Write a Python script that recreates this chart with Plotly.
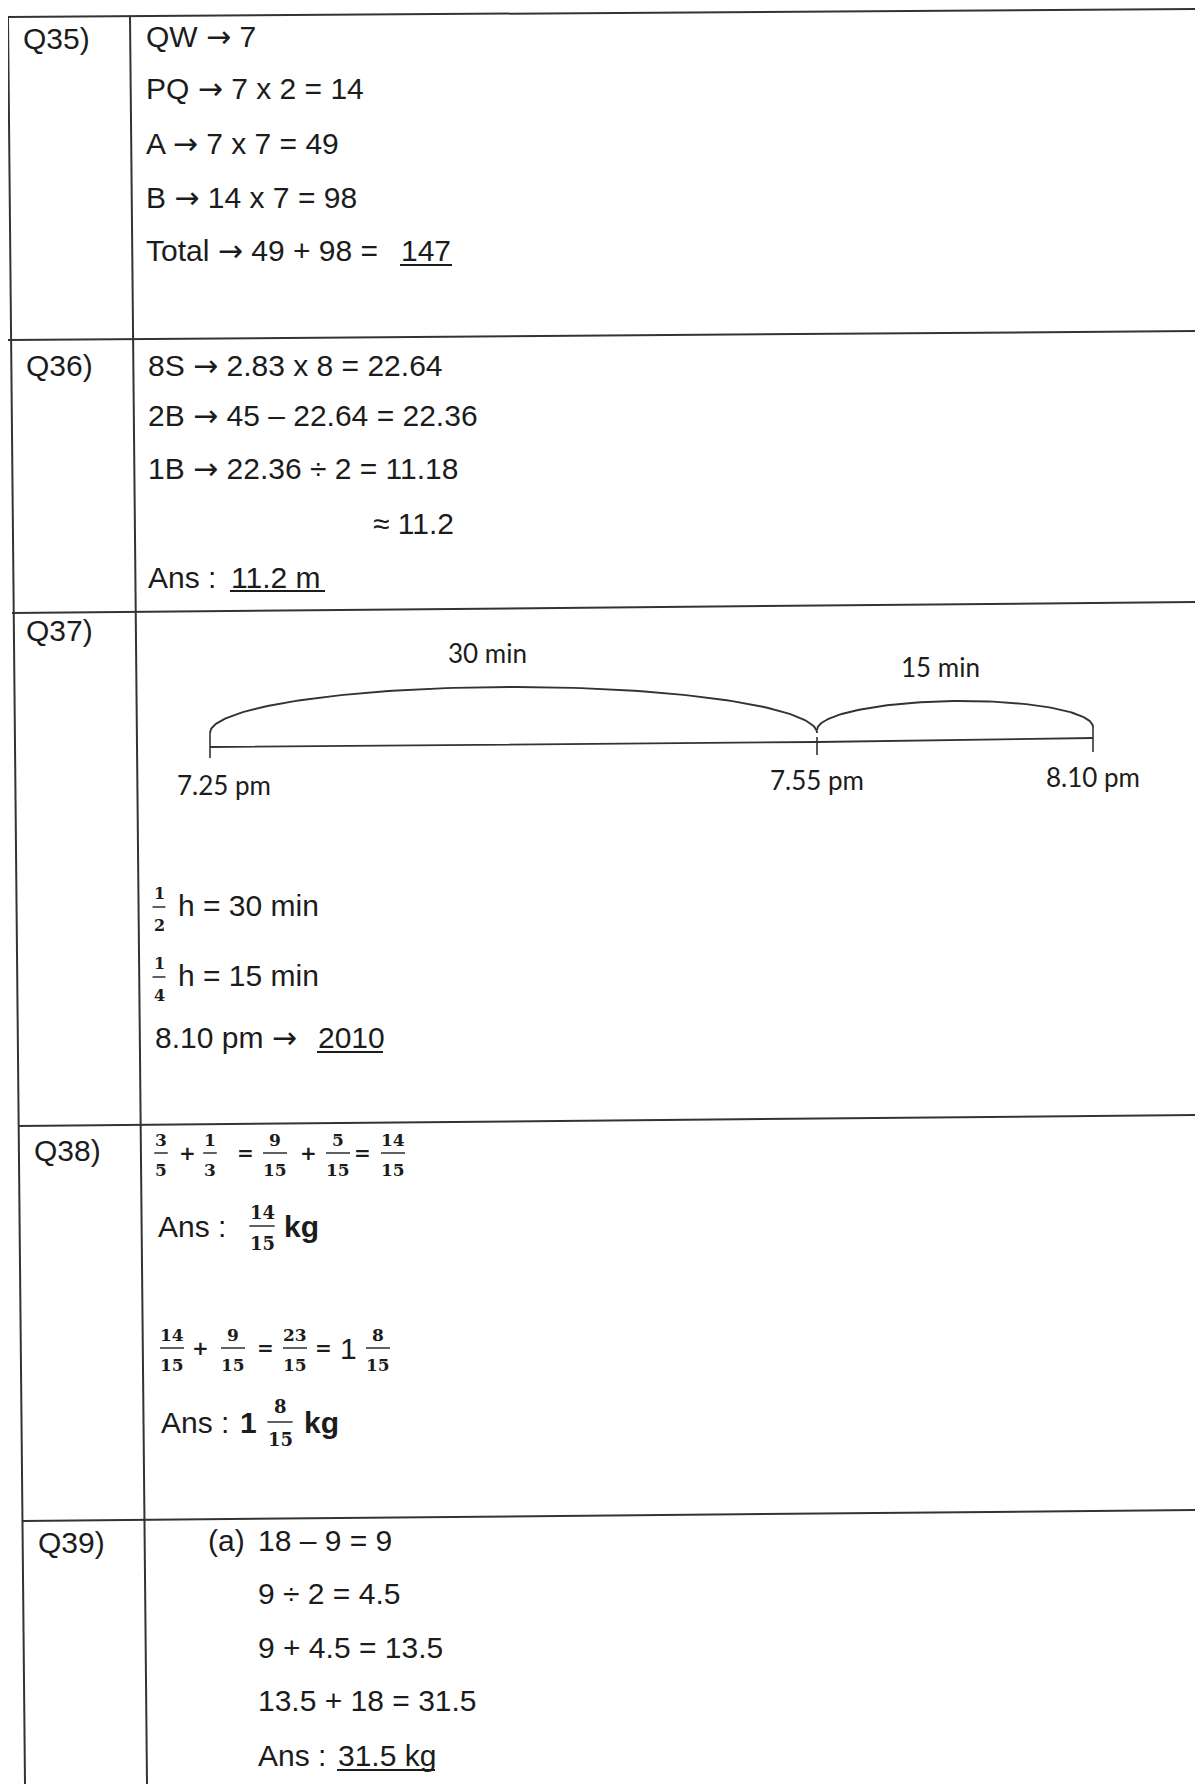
import numpy as np
import plotly.graph_objects as go

# ---------------- content (text values read from the page) ----------------
ARW = '<span style="font-family:DejaVu Sans">\u2192</span>'

q_labels = ["Q35)", "Q36)", "Q37)", "Q38)", "Q39)"]

q35_lines = ["QW " + ARW + " 7", "PQ " + ARW + " 7 x 2 = 14", "A " + ARW + " 7 x 7 = 49",
             "B " + ARW + " 14 x 7 = 98", "Total " + ARW + " 49 + 98 = "]
q35_answer = "147"

q36_lines = ["8S " + ARW + " 2.83 x 8 = 22.64", "2B " + ARW + " 45 \u2013 22.64 = 22.36",
             "1B " + ARW + " 22.36 \u00f7 2 = 11.18", "\u2248 11.2", "Ans : "]
q36_answer = "11.2 m"

q37_times = ["7.25 pm", "7.55 pm", "8.10 pm"]
q37_intervals = ["30 min", "15 min"]
q37_fracs = [("1", "2"), ("1", "4")]
q37_lines = ["h = 30 min", "h = 15 min", "8.10 pm " + ARW + " "]
q37_answer = "2010"

q38_eq1 = [("3", "5"), "+", ("1", "3"), "=", ("9", "15"), "+", ("5", "15"), "=", ("14", "15")]
q38_ans1 = ["Ans :", ("14", "15"), "kg"]
q38_eq2 = [("14", "15"), "+", ("9", "15"), "=", ("23", "15"), "=", "1", ("8", "15")]
q38_ans2 = ["Ans :", "1", ("8", "15"), "kg"]

q39_prefix = "(a)"
q39_lines = ["18 \u2013 9 = 9", "9 \u00f7 2 = 4.5", "9 + 4.5 = 13.5", "13.5 + 18 = 31.5", "Ans : "]
q39_answer = "31.5 kg"

# ---------------- layout constants (positions / styles) ----------------
PAGE_W, PAGE_H = 1203, 1784
OFF = 8  # browser body margin
INK = "#1c1c1c"
LINE = "#333333"
SANS = "Liberation Sans, Arial, sans-serif"
DIAG = "Lato, sans-serif"
SERIF = "DejaVu Serif, serif"
OPS = "DejaVu Sans, sans-serif"
FS = 30
DY = 0

label_pos = [(22, 38), (25, 365), (25, 630), (33, 1150), (37, 1542)]

q35_x, q35_y = 145, [36, 88, 143, 197, 250]
q35_ans_x, q35_ul = 400, (400, 452, 265)

q36_x, q36_y = 147, [365, 415, 468, 523, 577]
q36_indent_x = 372
q36_ans_x, q36_ul = 230, (230, 325, 591)

tick_x = [210, 817, 1093]
base_y = [747, 742, 738]
tick_top = [733, 737, 727]
tick_bot = [758, 755, 752]
arc_end_y = [733, 730, 727]
arc_peak = [687, 701]
interval_lbl = [(487, 653), (940, 667)]
time_lbl_y = [785, 780, 777]

q37_frac_x = 159
q37_frac_bar = [907, 977]
q37_text_x = 177
q37_y = [905, 975, 1037]
q37_last_x = 154
q37_ans_x, q37_ul = 317, (317, 383, 1052)

eq1_x = [161, 187, 210, 245, 275, 308, 338, 362, 393]
eq1_bar = 1153
ans1_x = [157, 262, 283]
ans1_bar = 1226
eq2_x = [172, 200, 233, 265, 295, 323, 348, 378]
eq2_bar = 1348
ans2_x = [160, 248, 280, 303]
ans2_bar = 1422

q39_prefix_x = 207
q39_x = 257
q39_y = [1540, 1593, 1647, 1700, 1755]
q39_ans_x, q39_ul = 337, (337, 435, 1770)

h_lines = [((8, 17), (1197, 9)), ((8, 340), (1203, 331)), ((12, 613), (1203, 602)),
           ((18, 1126), (1203, 1115)), ((23, 1521), (1203, 1510))]
v_lines = [((8, 17), (25, 1784)), ((130, 17), (147, 1784)), ((1197, 9), (1214, 1784))]

# ---------------- figure ----------------
fig = go.Figure()
annotations = []
shapes = []


def text(x, y, s, size=FS, family=SANS, anchor="left", bold=False, color=INK):
    if bold:
        s = "<b>" + s + "</b>"
    annotations.append(dict(x=x, y=y + DY, text=s, showarrow=False, xanchor=anchor,
                            yanchor="middle", xref="x", yref="y", borderpad=0,
                            font=dict(family=family, size=size, color=color)))


def seg(x0, y0, x1, y1, width=1.6, color=LINE):
    shapes.append(dict(type="line", x0=x0, y0=y0, x1=x1, y1=y1, xref="x", yref="y",
                       line=dict(color=color, width=width)))


def frac(cx, ybar, num, den, size=17, up=13, down=17):
    text(cx, ybar - up, num, size=size, family=SERIF, anchor="center", bold=True)
    text(cx, ybar + down, den, size=size, family=SERIF, anchor="center", bold=True)
    w = max(len(num), len(den)) * size * 0.62 + 3
    seg(cx - w / 2, ybar, cx + w / 2, ybar, width=1.4, color=INK)


# table rules
for (a, b) in h_lines + v_lines:
    seg(a[0], a[1], b[0], b[1], width=2)

# question labels
for lbl, (x, y) in zip(q_labels, label_pos):
    text(x, y, lbl)

# Q35
for s, y in zip(q35_lines, q35_y):
    text(q35_x, y, s)
text(q35_ans_x, q35_y[-1], q35_answer)
seg(q35_ul[0], q35_ul[2], q35_ul[1], q35_ul[2], width=1.8, color=INK)

# Q36
for i, (s, y) in enumerate(zip(q36_lines, q36_y)):
    text(q36_indent_x if i == 3 else q36_x, y, s)
text(q36_ans_x, q36_y[-1], q36_answer)
seg(q36_ul[0], q36_ul[2], q36_ul[1], q36_ul[2], width=1.8, color=INK)

# Q37 timeline diagram
fig.add_trace(go.Scatter(x=tick_x, y=base_y, mode="lines", line=dict(color=LINE, width=1.8),
                         hoverinfo="skip", showlegend=False))
for x, t0, t1 in zip(tick_x, tick_top, tick_bot):
    seg(x, t0, x, t1, width=1.6)
for k in range(2):
    xa, xb = tick_x[k], tick_x[k + 1]
    ya, yb = arc_end_y[k], arc_end_y[k + 1] + (3 if k == 0 else 0)
    t = np.linspace(0, np.pi, 120)
    cx, a = (xa + xb) / 2, (xb - xa) / 2
    xs = cx - a * np.cos(t)
    base = ya + (yb - ya) * (xs - xa) / (xb - xa)
    b = (ya + yb) / 2 - arc_peak[k]
    ys = base - b * np.sin(t)
    fig.add_trace(go.Scatter(x=xs, y=ys, mode="lines", line=dict(color=LINE, width=1.9),
                             hoverinfo="skip", showlegend=False))
for s, (x, y) in zip(q37_intervals, interval_lbl):
    text(x, y, s, size=26, family=DIAG, anchor="center")
for s, x, y in zip(q37_times, tick_x, time_lbl_y):
    text(x + (14 if x == tick_x[0] else 0), y, s, size=26, family=DIAG, anchor="center")

for (n, d), yb in zip(q37_fracs, q37_frac_bar):
    frac(q37_frac_x, yb, n, d, size=16, up=14, down=18)
for i, (s, y) in enumerate(zip(q37_lines, q37_y)):
    text(q37_text_x if i < 2 else q37_last_x, y, s)
text(q37_ans_x, q37_y[-1], q37_answer)
seg(q37_ul[0], q37_ul[2], q37_ul[1], q37_ul[2], width=1.8, color=INK)


# Q38
def expr(items, xs, ybar, fsize, opsize):
    for it, x in zip(items, xs):
        if isinstance(it, tuple):
            frac(x, ybar, it[0], it[1], size=fsize)
        elif it in ("+", "="):
            text(x, ybar, it, size=opsize, family=OPS, anchor="center", bold=True)
        else:
            text(x, ybar, it, anchor="center")


expr(q38_eq1, eq1_x, eq1_bar, 17, 20)
text(ans1_x[0], ans1_bar, q38_ans1[0])
frac(ans1_x[1], ans1_bar, q38_ans1[1][0], q38_ans1[1][1], size=18, up=14, down=17)
text(ans1_x[2], ans1_bar, q38_ans1[2], bold=True)

expr(q38_eq2, eq2_x, eq2_bar, 17, 20)
text(ans2_x[0], ans2_bar, q38_ans2[0])
text(ans2_x[1], ans2_bar, q38_ans2[1], anchor="center", bold=True)
frac(ans2_x[2], ans2_bar, q38_ans2[2][0], q38_ans2[2][1], size=18, up=16, down=17)
text(ans2_x[3], ans2_bar, q38_ans2[3], bold=True)

# Q39
text(q39_prefix_x, q39_y[0], q39_prefix)
for s, y in zip(q39_lines, q39_y):
    text(q39_x, y, s)
text(q39_ans_x, q39_y[-1], q39_answer)
seg(q39_ul[0], q39_ul[2], q39_ul[1], q39_ul[2], width=1.8, color=INK)

# figure is shifted by the page's body margin, so map page coordinates accordingly
fig.update_layout(
    width=PAGE_W - OFF, height=PAGE_H - OFF, margin=dict(l=0, r=0, t=0, b=0),
    paper_bgcolor="white", plot_bgcolor="white",
    xaxis=dict(range=[OFF, PAGE_W], visible=False, fixedrange=True),
    yaxis=dict(range=[PAGE_H, OFF], visible=False, fixedrange=True),
    annotations=annotations, shapes=shapes, showlegend=False,
)
fig.write_html("out.html")
